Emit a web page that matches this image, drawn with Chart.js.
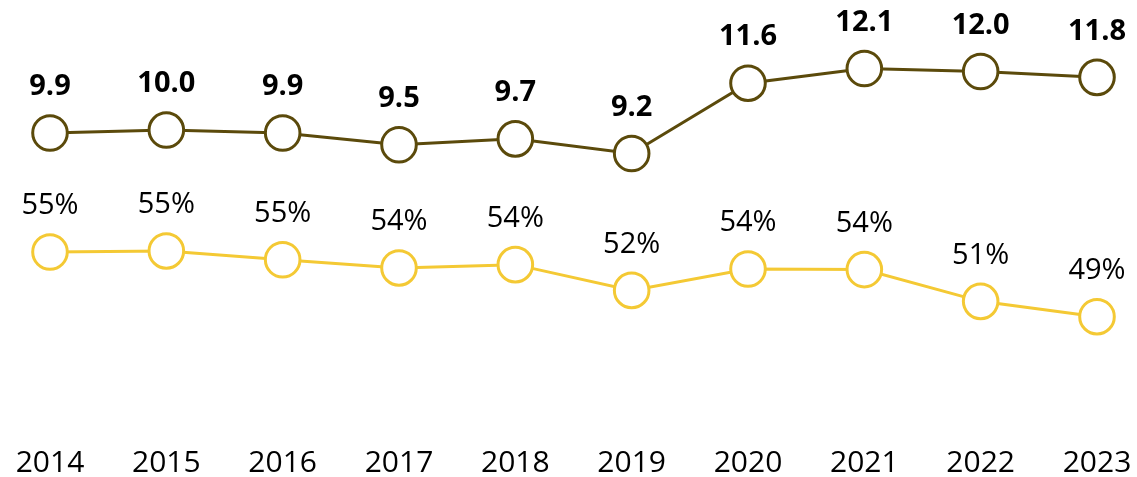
<!DOCTYPE html>
<html>
<head>
<meta charset="utf-8">
<script src="https://cdn.jsdelivr.net/npm/chart.js@4"></script>
<style>
    html, body { margin: 0; padding: 0; background: #fff; }
    #wrap { width: 1137px; height: 477px; }
</style>
</head>
<body>
<div id="wrap"><canvas id="myChart"></canvas></div>
<script>
const years = ['2014', '2015', '2016', '2017', '2018', '2019', '2020', '2021', '2022', '2023'];
const amounts = [9.9, 10.0, 9.9, 9.5, 9.7, 9.2, 11.6, 12.1, 12.0, 11.8];
const shares = [55.3, 55.4, 54.6, 53.85, 54.15, 51.8, 53.75, 53.7, 50.8, 49.4];

const dark = '#5b4a0b';
const yellow = '#f4c934';
const font = "'Open Sans', sans-serif";

// draws the value above every point
const valueLabels = {
    id: 'valueLabels',
    afterDatasetsDraw(chart) {
        const ctx = chart.ctx;
        chart.data.datasets.forEach((ds, i) => {
            const meta = chart.getDatasetMeta(i);
            ctx.save();
            ctx.fillStyle = '#000';
            ctx.textAlign = 'center';
            ctx.textBaseline = 'middle';
            ctx.font = (i === 0 ? 'bold ' : '') + '29px ' + font;
            meta.data.forEach((pt, j) => {
                const v = ds.data[j];
                const txt = i === 0 ? v.toFixed(1) : Math.round(v) + '%';
                ctx.fillText(txt, pt.x, pt.y - 46);
            });
            ctx.restore();
        });
    }
};

const ctx = document.getElementById('myChart').getContext('2d');

new Chart(ctx, {
    type: 'line',
    data: {
        labels: years,
        datasets: [{
            data: amounts,
            yAxisID: 'y',
            borderColor: dark,
            borderWidth: 3,
            pointRadius: 17.3,
            pointBorderWidth: 3,
            pointBackgroundColor: '#fff',
            pointBorderColor: dark,
            tension: 0
        }, {
            data: shares,
            yAxisID: 'y2',
            borderColor: yellow,
            borderWidth: 3,
            pointRadius: 17.3,
            pointBorderWidth: 3,
            pointBackgroundColor: '#fff',
            pointBorderColor: yellow,
            tension: 0
        }]
    },
    options: {
        responsive: true,
        maintainAspectRatio: false,
        animation: false,
        layout: {
            autoPadding: false,
            padding: { left: 50, right: 40, top: 0, bottom: 0 }
        },
        plugins: {
            legend: { display: false },
            tooltip: { enabled: false }
        },
        scales: {
            x: {
                offset: false,
                grid: { display: false, drawTicks: false },
                border: { display: false },
                ticks: {
                    color: '#000',
                    padding: 22,
                    maxRotation: 0,
                    font: { family: font, size: 30 }
                },
                afterFit(scale) {
                    scale.height = 54;
                    scale.paddingLeft = 0;
                    scale.paddingRight = 0;
                }
            },
            y: {
                display: false,
                min: 0,
                max: 14.44
            },
            y2: {
                display: false,
                min: 39.7,
                max: 78.3
            }
        }
    },
    plugins: [valueLabels]
});
</script>
</body>
</html>
